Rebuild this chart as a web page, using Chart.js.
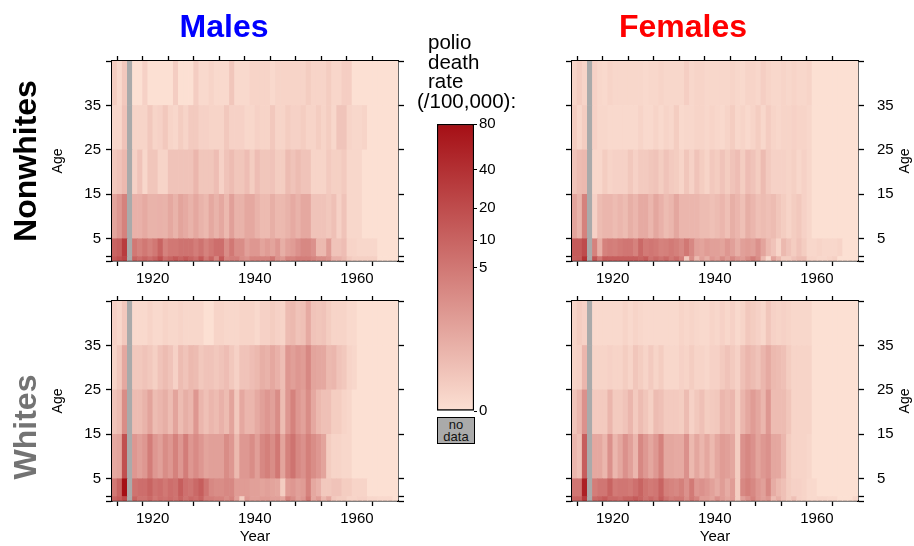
<!DOCTYPE html>
<html lang="en">
<head>
<meta charset="UTF-8">
<title>Polio death rates by age, sex and race</title>
<script src="https://cdn.jsdelivr.net/npm/chart.js@4"></script>
<style>
  body { margin: 0; width: 914px; height: 546px; position: relative; overflow: hidden; background: #fff;
         font-family: "Liberation Sans", Arial, sans-serif; color: #000; }
  canvas { position: absolute; left: 0; top: 0; }
  .lbl { position: absolute; white-space: nowrap; line-height: 1; transform: translate(-50%, -50%); }
  .rot { transform: translate(-50%, -50%) rotate(-90deg); }
  .big { font-weight: bold; font-size: 32px; }
  .age { font-size: 14px; }
  #legendTitle { position: absolute; left: 428px; top: 32px; font-size: 20.5px; line-height: 19.5px; }
  #noData { position: absolute; left: 437px; top: 417px; width: 38px; height: 27px; box-sizing: border-box;
            background: #aaaaaa; border: 1px solid #000; font-size: 13px; line-height: 11.5px; text-align: center; padding-top: 1px; color: #111; }
</style>
</head>
<body>
<canvas id="nwMale" width="914" height="546"></canvas>
<canvas id="wMale" width="914" height="546"></canvas>
<canvas id="nwFemale" width="914" height="546"></canvas>
<canvas id="wFemale" width="914" height="546"></canvas>
<canvas id="scaleBar" width="914" height="546"></canvas>

<div class="lbl big" style="left:224px; top:26px; color:#0000ff;">Males</div>
<div class="lbl big" style="left:683px; top:26px; color:#ff0000;">Females</div>
<div class="lbl big rot" style="left:25px; top:161px;">Nonwhites</div>
<div class="lbl big rot" style="left:25px; top:427px; color:#737373;">Whites</div>
<div class="lbl age rot" style="left:57px; top:161px;">Age</div>
<div class="lbl age rot" style="left:57px; top:401px;">Age</div>
<div class="lbl age rot" style="left:904px; top:161px;">Age</div>
<div class="lbl age rot" style="left:904px; top:401px;">Age</div>
<div id="legendTitle">polio<br>death<br>rate<br><span style="margin-left:-11px">(/100,000):</span></div>
<div id="noData">no<br>data</div>

<script>
// years shown on the x axis, one cell per year
const years = [1914, 1915, 1916, 1917, 1918, 1919, 1920, 1921, 1922, 1923,
               1924, 1925, 1926, 1927, 1928, 1929, 1930, 1931, 1932, 1933,
               1934, 1935, 1936, 1937, 1938, 1939, 1940, 1941, 1942, 1943,
               1944, 1945, 1946, 1947, 1948, 1949, 1950, 1951, 1952, 1953,
               1954, 1955, 1956, 1957, 1958, 1959, 1960, 1961, 1962, 1963,
               1964, 1965, 1966, 1967, 1968, 1969];
// age bands (rows), bottom to top
const ageBands = [[0, 1], [1, 5], [5, 15], [15, 25], [25, 35], [35, 45]];

const xTickYears = [1915, 1920, 1925, 1930, 1935, 1940, 1945, 1950, 1955, 1960, 1965];
const xLabelYears = [1920, 1940, 1960];
const ageTicks = [0, 1, 5, 15, 25, 35, 45];
const ageLabels = [5, 15, 25, 35];
const rateTicks = [0, 5, 10, 20, 40, 80];

// polio death rate per 100,000, one row per age band (null = no data)
const nonwhiteMales = [
  [14, 18, 25, null, 10, 7, 10, 7, 10, 18,  7, 10, 14, 10, 14, 10, 7, 14, 5, 10,
   3, 14, 3, 4, 4, 2, 1.5, 3, 3, 3,  3, 5, 1.5, 1, 3, 3, 4, 4, 4, 3,
   2, 2, 1.5, 0.2, 0.2, 0.1, 0.01, 0.003, 0.003, 0.003,  0.003, 0.003, 0, 0, 0, 0],
  [10, 12, 30, null, 5, 3.3, 5, 3.3, 5, 10,  3.3, 5, 5, 6, 6, 6, 4, 6, 3.3, 5,
   7, 7, 2, 5, 2, 2, 0.7, 1.2, 1.2, 0.55,  0.9, 0.55, 1.2, 0.25, 0.65, 0.9, 1.6, 2.5, 2.5, 1.6,
   0.1, 0.1, 0.9, 0.03, 0.03, 0.06, 0.001, 0.001, 0.0003, 0.0003,  0.0003, 0.0003, 0, 0, 0, 0],
  [0.55, 1.2, 3.3, null, 0.2, 0.2, 0.35, 0.17, 0.17, 0.2,  0.17, 0.4, 0.17, 0.55, 0.35, 0.17, 0.4, 0.17, 0.1, 0.4,
   0.17, 0.4, 0.1, 0.7, 0.17, 0.17, 0.4, 0.4, 0.17, 0.08,  0.08, 0.25, 0.1, 0.1, 0.17, 0.35, 0.17, 0.4, 0.4, 0.03,
   0.03, 0.03, 0.015, 0.045, 0.002, 0.03, 0.0003, 0.0003, 0.0003, 0,  0, 0, 0, 0, 0, 0],
  [0.015, 0.03, 0.1, null, 0.002, 0.03, 0.0003, 0.02, 0.02, 0.0008,  0.0008, 0.03, 0.03, 0.03, 0.03, 0.03, 0.13, 0.02, 0.02, 0.02,
   0.06, 0.002, 0.03, 0.07, 0.02, 0.02, 0.06, 0.006, 0.06, 0.02,  0.02, 0.03, 0.006, 0.006, 0.07, 0.03, 0.07, 0.03, 0.03, 0.001,
   0.001, 0.001, 0.01, 0.003, 0.003, 0.01, 0.0003, 0.0003, 0.0003, 0,  0, 0, 0, 0, 0, 0],
  [0.0003, 0.0003, 0.03, null, 0.0008, 0.0008, 0.0008, 0.015, 0.0008, 0.002,  0.015, 0.0008, 0.0003, 0.006, 0.0008, 0.01, 0.01, 0.002, 0.002, 0.0008,
   0.0008, 0.0008, 0.015, 0.002, 0.002, 0.002, 0.0003, 0.0003, 0.002, 0.0008,  0.0008, 0.015, 0.0008, 0.0008, 0.006, 0.002, 0.002, 0.006, 0.0008, 0.0008,
   0.006, 0.0008, 0.006, 0.0003, 0.025, 0.025, 0.0008, 0.0003, 0.0003, 0.001,  0, 0, 0, 0, 0, 0],
  [0.006, 0.0001, 0.015, null, 0, 0, 0.002, 0, 0, 0,  0, 0, 0.005, 0, 0, 0, 0.005, 0.0001, 0.0001, 0.0008,
   0.0001, 0.0001, 0.0001, 0.02, 0.0001, 0.0001, 0.0001, 0.001, 0.001, 0.001,  0.001, 0.0001, 0.001, 0.001, 0.001, 0.001, 0.001, 0.001, 0.006, 0.001,
   0.001, 0.001, 0.006, 0.0004, 0.0004, 0.004, 0.004, 0, 0, 0,  0, 0, 0, 0, 0, 0]
];

const whiteMales = [
  [10, 13, 22, null, 10, 6, 6, 8.5, 5, 7,  6, 7.5, 6, 10, 6, 8.5, 7, 10, 4, 4,
   3.3, 3.3, 2, 3.3, 0.7, 0.006, 1.2, 0.7, 0.7, 0.9,  0.9, 0.7, 0.7, 0.4, 3.3, 2, 0.7, 1.2, 5, 0.4,
   0.9, 0.1, 0.4, 0.015, 0.006, 0.006, 0.0008, 0.0008, 0.002, 0.002,  0.0003, 0.0003, 0.0001, 0.0001, 0.0001, 0],
  [5, 10, 80, null, 6, 7, 7, 10, 6, 7,  5, 7, 6, 12, 6.5, 5.5, 8.5, 12, 5.5, 2.5,
   2, 2, 2.5, 2.5, 0.9, 0.9, 0.9, 0.7, 0.7, 0.55,  0.7, 0.55, 0.45, 0.006, 0.9, 1.2, 0.7, 0.9, 3.3, 0.4,
   0.2, 0.015, 0.015, 0.03, 0.03, 0.006, 0.006, 0.001, 0.001, 0.001,  0, 0, 0, 0, 0, 0],
  [0.4, 0.55, 18, null, 1.2, 0.7, 1.2, 4, 1.2, 0.7,  2, 1.2, 3.3, 1.2, 4, 1.2, 2.2, 1.2, 0.55, 0.7,
   0.7, 0.7, 2, 1.2, 0.1, 1.1, 1.1, 2, 0.75, 2.5,  3.6, 2, 5, 0.55, 3.3, 6, 2.5, 1.6, 3.6, 2,
   1.2, 0.55, 0.006, 0.001, 0.001, 0.0003, 0.0003, 0, 0, 0,  0, 0, 0, 0, 0, 0],
  [0.03, 0.07, 2, null, 0.07, 0.07, 0.17, 0.55, 0.07, 0.13,  0.25, 0.07, 0.55, 0.07, 0.25, 0.13, 1.2, 0.13, 0.045, 0.13,
   0.07, 0.2, 0.07, 0.55, 0.015, 0.4, 0.13, 0.13, 0.35, 0.7,  1.2, 0.7, 2, 0.07, 1.2, 3.3, 1.2, 0.65, 2, 0.4,
   0.1, 0.045, 0.045, 0.006, 0.006, 0.001, 0.0003, 0, 0, 0,  0, 0, 0, 0, 0, 0],
  [0.001, 0.015, 0.4, null, 0.015, 0.015, 0.03, 0.015, 0.003, 0.03,  0.07, 0.03, 0.002, 0.07, 0.03, 0.1, 0.07, 0.015, 0.03, 0.03,
   0.015, 0.03, 0.06, 0.015, 0.002, 0.03, 0.03, 0.06, 0.1, 0.25,  0.17, 0.4, 0.2, 0.06, 1.2, 0.75, 1.2, 0.9, 2.5, 0.55,
   0.45, 0.4, 0.1, 0.13, 0.03, 0.015, 0.001, 0.0003, 0, 0,  0, 0, 0, 0, 0, 0],
  [0.002, 0.0003, 0.015, null, 0.0001, 0.0001, 0.0001, 0.001, 0.0001, 0.0001,  0.001, 0.0003, 0.0003, 0.0008, 0.0003, 0.0003, 0.0003, 0.0003, 0, 0,
   0.0008, 0.0008, 0.0003, 0.0003, 0.0003, 0.0008, 0.0008, 0.0008, 0.0001, 0.002,  0.002, 0.006, 0.002, 0.0008, 0.07, 0.1, 0.03, 0.045, 0.35, 0.03,
   0.02, 0.03, 0.006, 0.0008, 0.0008, 0.0008, 0.0001, 0.0001, 0, 0,  0, 0, 0, 0, 0, 0]
];

const nonwhiteFemales = [
  [12, 13, 37, null, 15.5, 5, 13, 12, 12, 12,  12, 12, 12, 10, 13, 6, 8.5, 6, 8.5, 5,
   7.5, 4, 0.015, 2, 0.1, 0.7, 0.25, 1.2, 0.7, 2,  0.9, 2.5, 1.2, 0.9, 2, 4, 2, 0.1, 0.0001, 0.55,
   0.1, 0.006, 0.006, 0.03, 0.07, 0.07, 0.0008, 0.0008, 0.0003, 0.0003,  0.001, 0.003, 0, 0, 0, 0],
  [13, 13, 20, null, 3.3, 0.25, 3.3, 4, 3.6, 4.5,  5.3, 5.3, 3.3, 8.5, 4.5, 5.3, 4.5, 3.3, 3.6, 4.5,
   3.6, 2.5, 5, 2.5, 0.7, 0.55, 0.9, 0.7, 0.7, 0.55,  1.2, 0.7, 0.25, 0.7, 0.9, 0.7, 1.6, 0.55, 0.1, 0.03,
   0.001, 0.1, 0.03, 0.006, 0.03, 0.006, 0.0003, 0.0003, 0.001, 0.0003,  0.0003, 0.0003, 0.0008, 0, 0, 0],
  [0.55, 0.17, 3.3, null, 0.002, 0.07, 0.13, 0.13, 0.07, 0.13,  0.07, 0.25, 0.13, 0.35, 0.35, 0.13, 0.45, 0.2, 0.07, 0.13,
   0.45, 0.13, 0.13, 0.13, 0.13, 0.07, 0.07, 0.045, 0.07, 0.13,  0.045, 0.25, 0.13, 0.045, 0.25, 0.13, 0.045, 0.07, 0.045, 0.07,
   0.02, 0.006, 0.001, 0.006, 0.015, 0.002, 0.0003, 0, 0, 0,  0, 0, 0, 0, 0, 0],
  [0.03, 0.07, 0.1, null, 0.0003, 0.0003, 0.006, 0.0008, 0.002, 0.002,  0.002, 0.015, 0.002, 0.01, 0.01, 0.02, 0.03, 0.006, 0.03, 0.01,
   0.006, 0.0008, 0.02, 0.002, 0.03, 0.006, 0.0008, 0.015, 0.006, 0.03,  0.006, 0.03, 0.06, 0.006, 0.06, 0.03, 0.006, 0.08, 0.01, 0.002,
   0.002, 0.002, 0.0008, 0.003, 0.0003, 0.002, 0.0003, 0, 0, 0,  0, 0, 0, 0, 0, 0],
  [0.006, 0.0003, 0.006, null, 0.002, 0.0003, 0.0003, 0.0001, 0.0001, 0.0001,  0.0001, 0.0001, 0.0001, 0.0008, 0.0001, 0.0001, 0.0008, 0.0001, 0.0008, 0.0003,
   0.006, 0.0001, 0.0003, 0.0003, 0.0008, 0.0008, 0.0003, 0.0008, 0.0003, 0.0001,  0.0008, 0.006, 0.0003, 0.0008, 0.0001, 0.0008, 0.006, 0.0003, 0.007, 0.0008,
   0.0003, 0.0008, 0.0008, 0.002, 0.0008, 0.0008, 0.0003, 0, 0, 0,  0, 0, 0, 0, 0, 0],
  [0.0008, 0.006, 0.0008, null, 0.002, 0.0003, 0.0001, 0.0008, 0.0003, 0.0003,  0.0003, 0.0003, 0.0003, 0.0003, 0.0001, 0.0003, 0.0003, 0.0008, 0.0003, 0.0003,
   0.0003, 0.0003, 0.004, 0.0003, 0.0008, 0.0008, 0.0003, 0.0003, 0.0003, 0.0003,  0.0003, 0.0008, 0.0003, 0.0001, 0.0008, 0.0008, 0.0003, 0.004, 0.0008, 0.0003,
   0.0003, 0.001, 0.0003, 0.0008, 0.0003, 0.0003, 0.0008, 0, 0, 0,  0, 0, 0, 0, 0, 0]
];

const whiteFemales = [
  [10, 10, 32, null, 8.5, 10, 13, 8.5, 8.5, 7,  10, 10, 13, 10, 6, 8.5, 6, 12.5, 6, 4,
   5, 5, 2, 5, 3, 0.9, 0.9, 0.55, 1.6, 0.9,  0.45, 0.9, 0.006, 0.7, 1.6, 3.3, 1.2, 0.7, 1.2, 0.07,
   0.25, 0.045, 0.006, 0.045, 0.002, 0.0008, 0.0001, 0.0001, 0.0003, 0.0003,  0.0001, 0.0001, 0, 0, 0, 0.0003],
  [5.3, 5.3, 56, null, 4, 5.3, 5.3, 10, 4.5, 5.3,  5.3, 4.5, 6.5, 10, 5.8, 4.5, 5.3, 10, 3.6, 3,
   2.5, 3.6, 1.6, 4.5, 1.2, 1.6, 1.1, 0.65, 0.3, 0.85,  0.3, 0.85, 0.006, 2.5, 3.6, 2.5, 1.2, 0.7, 2.5, 0.3,
   0.1, 0.045, 0.006, 0.002, 0.002, 0.0008, 0.0001, 0.0001, 0, 0,  0, 0, 0, 0, 0, 0],
  [0.13, 0.045, 12, null, 0.4, 0.4, 0.13, 1.6, 0.13, 0.45,  1.6, 0.7, 0.13, 2.5, 1.1, 0.45, 1.1, 3.3, 0.45, 0.45,
   0.35, 0.35, 1.6, 0.1, 0.45, 0.13, 0.4, 0.1, 0.4, 0.9,  0.7, 0.45, 0.006, 1.6, 2.5, 1.6, 0.55, 1.1, 1.6, 0.45,
   0.4, 0.13, 0.006, 0.0008, 0.0008, 0.0008, 0.0003, 0, 0, 0,  0, 0, 0, 0, 0, 0],
  [0.03, 0.13, 1.6, null, 0.01, 0.01, 0.01, 0.13, 0.01, 0.01,  0.03, 0.13, 0.01, 0.07, 0.02, 0.003, 0.07, 0.045, 0.01, 0.01,
   0.01, 0.006, 0.07, 0.002, 0.015, 0.045, 0.006, 0.01, 0.015, 0.13,  0.07, 0.13, 0.006, 0.13, 0.4, 0.9, 0.45, 0.13, 1.1, 0.07,
   0.07, 0.07, 0.02, 0.0008, 0.0008, 0.0008, 0.0008, 0, 0, 0,  0, 0, 0, 0, 0, 0],
  [0.0008, 0.002, 0.13, null, 0.0008, 0.0008, 0.0008, 0.002, 0.0008, 0.0008,  0.006, 0.0008, 0.02, 0.006, 0.0008, 0.01, 0.0008, 0.006, 0.0003, 0.0003,
   0.0003, 0.002, 0.0008, 0.006, 0.0008, 0.0008, 0.0003, 0.002, 0.002, 0.01,  0.03, 0.01, 0.002, 0.045, 0.13, 0.07, 0.03, 0.13, 0.35, 0.1,
   0.07, 0.045, 0.006, 0.0008, 0.0008, 0.0008, 0.0008, 0, 0, 0,  0, 0, 0, 0, 0, 0],
  [0.0008, 0.006, 0.002, null, 0.0001, 0.0001, 0.0001, 0.0001, 0.0001, 0.0001,  0.0008, 0.0001, 0.0008, 0.0003, 0.0001, 0.0001, 0.0001, 0.0001, 0.0001, 0.0001,
   0.0001, 0.0008, 0.0003, 0.0008, 0.0003, 0.0001, 0.0001, 0.0008, 0.0003, 0.002,  0.0003, 0.002, 0.0001, 0.0008, 0.015, 0.006, 0.002, 0.0003, 0.02, 0.002,
   0.0008, 0.002, 0.0008, 0.0003, 0.0003, 0.0003, 0.0003, 0, 0, 0,  0, 0, 0, 0, 0, 0]
];

Chart.defaults.font.family = '"Liberation Sans", Arial, sans-serif';
Chart.defaults.color = '#000';

const lowColour = [252, 224, 211];
const highColour = [165, 15, 21];
const noDataColour = '#aaaaaa';
const rateMax = 80;

// colour scale is linear in the 4th root of the rate (matches the key)
function scalePos(v) { return Math.pow(Math.min(v, rateMax) / rateMax, 0.25); }
function rateColour(v) {
  if (v === null) return noDataColour;
  const t = scalePos(v);
  const c = lowColour.map((a, k) => Math.round(a + (highColour[k] - a) * t));
  return 'rgb(' + c.join(',') + ')';
}

const tickFont = { size: 15 };

function xAxis(pos, showLabels, withTitle, size) {
  return {
    type: 'linear', position: pos, min: 1914, max: 1970, offset: false,
    afterBuildTicks: s => { s.ticks = xTickYears.map(v => ({ value: v })); },
    afterFit: s => { s.height = size; },
    grid: { drawOnChartArea: false, drawTicks: true, tickLength: 5, tickColor: '#000', tickWidth: 1.3, offset: false },
    border: { display: true, color: '#000', width: 1.6 },
    ticks: {
      display: showLabels, autoSkip: false, maxRotation: 0, padding: 4, labelOffset: 10, font: tickFont,
      callback: v => xLabelYears.includes(v) ? String(v) : ''
    },
    title: { display: withTitle, text: 'Year', font: { size: 15 }, padding: 0 }
  };
}

function yAxis(pos, showLabels, size) {
  return {
    type: 'linear', position: pos, min: 0, max: 45, offset: false,
    afterBuildTicks: s => { s.ticks = ageTicks.map(v => ({ value: v })); },
    afterFit: s => { s.width = size; },
    grid: { drawOnChartArea: false, drawTicks: true, tickLength: 6, tickColor: '#000', tickWidth: 1.3 },
    border: { display: true, color: '#000', width: 1.6 },
    ticks: {
      display: showLabels, autoSkip: false, padding: pos === 'left' ? 5 : 13, font: tickFont,
      callback: v => ageLabels.includes(v) ? String(v) : ''
    }
  };
}

function drawPanel(id, rows, area, labelSide, withYear) {
  const datasets = ageBands.map((band, r) => ({
    data: years.map(yr => ({ x: yr + 0.5, y: band })),
    backgroundColor: rows[r].map(rateColour),
    borderWidth: 0,
    grouped: false,
    barPercentage: 1,
    categoryPercentage: 1
  }));
  const leftW = 50, rightW = 50, topH = 10, bottomH = withYear ? 45 : 40;
  new Chart(document.getElementById(id), {
    type: 'bar',
    data: { datasets },
    options: {
      responsive: false, animation: false, devicePixelRatio: 1,
      layout: {
        autoPadding: false,
        padding: { left: area.left - leftW, right: 914 - area.right - rightW, top: area.top - topH, bottom: 546 - area.bottom - bottomH }
      },
      plugins: { legend: { display: false }, tooltip: { enabled: false } },
      scales: {
        x: xAxis('bottom', true, withYear, bottomH),
        x2: xAxis('top', false, false, topH),
        y: yAxis('left', labelSide === 'left', leftW),
        y2: yAxis('right', labelSide === 'right', rightW)
      }
    }
  });
}

drawPanel('nwMale', nonwhiteMales, { left: 112, top: 61, right: 398, bottom: 261 }, 'left', false);
drawPanel('wMale', whiteMales, { left: 112, top: 301, right: 398, bottom: 501 }, 'left', true);
drawPanel('nwFemale', nonwhiteFemales, { left: 572, top: 61, right: 858, bottom: 261 }, 'right', false);
drawPanel('wFemale', whiteFemales, { left: 572, top: 301, right: 858, bottom: 501 }, 'right', true);

// colour key
new Chart(document.getElementById('scaleBar'), {
  type: 'bar',
  data: {
    labels: [''],
    datasets: [{
      data: [[0, 1]],
      backgroundColor: c => {
        const a = c.chart.chartArea;
        if (!a) return 'rgb(252,224,211)';
        const g = c.chart.ctx.createLinearGradient(0, a.bottom, 0, a.top);
        g.addColorStop(0, 'rgb(' + lowColour.join(',') + ')');
        g.addColorStop(1, 'rgb(' + highColour.join(',') + ')');
        return g;
      },
      borderColor: '#000', borderWidth: 1.5, borderSkipped: false,
      barPercentage: 1, categoryPercentage: 1
    }]
  },
  options: {
    responsive: false, animation: false, devicePixelRatio: 1,
    layout: { autoPadding: false, padding: { left: 437, right: 914 - 474 - 40, top: 124, bottom: 546 - 411 } },
    plugins: { legend: { display: false }, tooltip: { enabled: false } },
    scales: {
      x: { display: false },
      y: {
        position: 'right', min: 0, max: 1,
        afterBuildTicks: s => { s.ticks = rateTicks.map(v => ({ value: scalePos(v) })); },
        afterFit: s => { s.width = 40; },
        grid: { drawOnChartArea: false, tickLength: 3, tickColor: '#000', tickWidth: 1 },
        border: { display: false },
        ticks: { padding: 2, font: tickFont, callback: (v, i) => String(rateTicks[i]) }
      }
    }
  }
});
</script>
</body>
</html>
